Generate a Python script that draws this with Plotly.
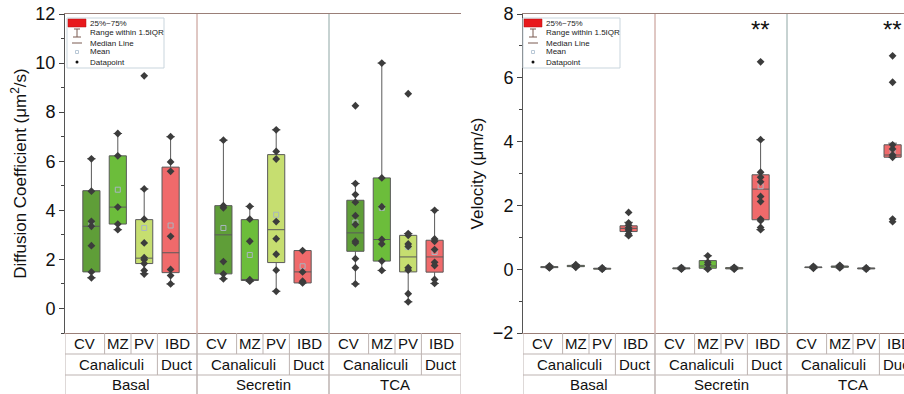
import plotly.graph_objects as go

W, H = 904, 394

# ---------------- data ----------------
groups = ["Basal", "Secretin", "TCA"]
regions = ["CV", "MZ", "PV", "IBD"]
subgroups = ["Canaliculi", "Duct"]
region_colors = ["#5f9e38", "#6cbd3b", "#c6de70", "#f06a6b"]

# Diffusion coefficient (um^2/s), order: Basal CV,MZ,PV,IBD, Secretin ..., TCA ...
diff_q1 = [1.49, 3.44, 1.83, 1.46, 1.41, 1.14, 1.87, 1.04, 2.33, 1.93, 1.49, 1.48]
diff_med = [3.35, 4.13, 2.05, 2.27, 3.00, 1.17, 3.21, 1.49, 3.08, 2.81, 2.10, 2.10]
diff_q3 = [4.80, 6.22, 3.62, 5.76, 4.19, 3.62, 6.27, 2.36, 4.41, 5.32, 2.98, 2.78]
diff_lo = [1.25, 3.21, 1.42, 1.00, 1.21, 1.11, 0.70, 1.04, 1.00, 1.55, 0.27, 1.02]
diff_hi = [6.10, 7.13, 4.87, 7.00, 6.86, 4.16, 7.28, 2.36, 5.09, 10.0, 3.05, 4.00]
diff_mean = [3.40, 4.84, 3.28, 3.38, 3.28, 2.18, 3.82, 1.72, 3.50, 4.10, 2.50, 2.30]
diff_points = [
    [6.10, 4.78, 3.55, 3.35, 2.56, 1.49, 1.25],
    [7.13, 6.22, 4.13, 3.44, 3.21],
    [9.48, 4.87, 3.64, 2.67, 2.07, 1.99, 1.83, 1.55, 1.40],
    [7.00, 5.97, 5.59, 2.94, 1.59, 1.34, 1.00],
    [6.86, 4.19, 4.10, 1.91, 1.41, 1.21],
    [4.16, 3.64, 2.74, 1.17, 1.14, 1.11],
    [7.28, 6.40, 6.09, 3.54, 2.84, 2.21, 1.56, 0.70],
    [2.36, 1.49, 1.11, 1.04],
    [8.26, 5.09, 4.64, 4.33, 3.78, 3.42, 2.74, 2.67, 2.03, 1.66, 1.00],
    [10.0, 5.32, 4.15, 2.81, 2.63, 1.93, 1.55],
    [8.75, 3.05, 2.98, 2.63, 2.53, 1.66, 1.56, 0.60, 0.27],
    [4.00, 2.83, 2.74, 2.40, 1.88, 1.75, 1.18, 1.02],
]

# Velocity (um/s)
vel_q1 = [0.05, 0.08, 0.00, 1.18, 0.01, 0.03, 0.01, 1.55, 0.05, 0.06, 0.01, 3.51]
vel_med = [0.07, 0.10, 0.02, 1.28, 0.03, 0.10, 0.03, 2.51, 0.06, 0.08, 0.02, 3.58]
vel_q3 = [0.08, 0.12, 0.03, 1.36, 0.04, 0.27, 0.05, 2.96, 0.07, 0.10, 0.04, 3.90]
vel_lo = [0.04, 0.06, -0.01, 1.05, 0.00, 0.00, 0.00, 1.24, 0.03, 0.04, 0.00, 3.51]
vel_hi = [0.10, 0.14, 0.05, 1.47, 0.06, 0.42, 0.07, 4.06, 0.09, 0.12, 0.05, 3.95]
vel_mean = [0.07, 0.10, 0.02, 1.30, 0.03, 0.17, 0.03, 2.60, 0.06, 0.08, 0.02, 3.70]
vel_points = [
    [0.04, 0.06, 0.07, 0.08, 0.10],
    [0.06, 0.08, 0.10, 0.10, 0.12, 0.14],
    [0.00, 0.01, 0.02, 0.03, 0.04],
    [1.78, 1.45, 1.38, 1.30, 1.25, 1.20, 1.10, 1.05],
    [0.00, 0.02, 0.03, 0.04, 0.05],
    [0.42, 0.22, 0.15, 0.03, 0.00],
    [0.00, 0.02, 0.03, 0.04, 0.06],
    [6.50, 4.06, 3.04, 2.88, 2.74, 2.28, 2.12, 1.57, 1.52, 1.31, 1.24],
    [0.03, 0.05, 0.06, 0.07, 0.09],
    [0.04, 0.07, 0.08, 0.10, 0.12],
    [0.00, 0.02, 0.03, 0.04],
    [6.69, 5.86, 3.90, 3.77, 3.58, 3.51, 1.57, 1.49],
]
significance = ["", "**", "**"]  # on IBD of each group, velocity panel

# ---------------- helpers ----------------
def PX(x):
    return x / W


def PY(y):
    return 1 - y / H


def pos(g, i):
    return g * 5 + i + 1


FONT = "Liberation Sans, Arial, sans-serif"
FRAME = "#9a7f78"
TABLE = "#bdb3b1"

fig = go.Figure()


def add_panel(xa, ya, q1, med, q3, lo, hi, mean, pts):
    for i, reg in enumerate(regions):
        idx = [g * 4 + i for g in range(len(groups))]
        xs = [pos(g, i) for g in range(len(groups))]
        fig.add_trace(go.Box(
            x=xs, q1=[q1[k] for k in idx], median=[med[k] for k in idx],
            q3=[q3[k] for k in idx], lowerfence=[lo[k] for k in idx],
            upperfence=[hi[k] for k in idx],
            fillcolor=region_colors[i], line=dict(color="#5a5a5a", width=1),
            width=0.65, whiskerwidth=0.5, boxpoints=False,
            xaxis=xa, yaxis=ya, showlegend=False, hoverinfo="skip"))
    mx, my = [], []
    for k in range(12):
        g, i = divmod(k, 4)
        mx.append(pos(g, i))
        my.append(mean[k])
    fig.add_trace(go.Scatter(x=mx, y=my, mode="markers", xaxis=xa, yaxis=ya,
                             marker=dict(symbol="square-open", size=5, color="#a9b6c0", line=dict(width=1)),
                             showlegend=False, hoverinfo="skip"))
    px_, py_ = [], []
    for k in range(12):
        g, i = divmod(k, 4)
        for v in pts[k]:
            px_.append(pos(g, i))
            py_.append(v)
    fig.add_trace(go.Scatter(x=px_, y=py_, mode="markers", xaxis=xa, yaxis=ya,
                             marker=dict(symbol="diamond", size=6, color="#3c3c3c"),
                             showlegend=False, hoverinfo="skip"))


add_panel("x", "y", diff_q1, diff_med, diff_q3, diff_lo, diff_hi, diff_mean, diff_points)
add_panel("x2", "y2", vel_q1, vel_med, vel_q3, vel_lo, vel_hi, vel_mean, vel_points)

ydom = [PY(333), PY(14)]
axis_common = dict(showgrid=False, zeroline=False, automargin=False)
fig.update_layout(
    width=W, height=H, margin=dict(l=0, r=0, t=0, b=0, autoexpand=False),
    paper_bgcolor="white", plot_bgcolor="white", boxmode="overlay",
    font=dict(family=FONT, color="#111"),
    xaxis=dict(domain=[PX(65), PX(461)], range=[0, 15], showticklabels=False, ticks="",
               showline=True, mirror=True, linecolor=FRAME, linewidth=1, **axis_common),
    xaxis2=dict(domain=[PX(523), 1.0], range=[0, (904 - 523) / 26.4], showticklabels=False, ticks="",
                showline=True, mirror=True, linecolor=FRAME, linewidth=1, **axis_common),
    yaxis=dict(domain=ydom, range=[-1, 12], tickvals=[0, 2, 4, 6, 8, 10, 12],
               ticks="outside", ticklen=5, tickcolor="#444", showline=True, linecolor="#555",
               tickfont=dict(size=18, family=FONT), anchor="x",
               minor=dict(tickvals=[-1, 1, 3, 5, 7, 9, 11], ticks="outside", ticklen=3, tickcolor="#444"),
               title=dict(text="Diffusion Coefficient (μm<sup>2</sup>/s)", font=dict(size=17, family=FONT), standoff=4),
               **axis_common),
    yaxis2=dict(domain=ydom, range=[-2, 8], tickvals=[-2, 0, 2, 4, 6, 8],
                ticks="outside", ticklen=5, tickcolor="#444", showline=True, linecolor="#555",
                tickfont=dict(size=18, family=FONT), anchor="x2",
                minor=dict(tickvals=[-1, 1, 3, 5, 7], ticks="outside", ticklen=3, tickcolor="#444"),
                title=dict(text="Velocity (μm/s)", font=dict(size=17, family=FONT), standoff=4),
                **axis_common),
)

shapes = []
annotations = []

row_y = [PY(333), PY(354), PY(375), 0.0]
for xa, ya in [("x", "y"), ("x2", "y2")]:
    for b, col in [(5, "#c09088"), (10, "#8fa6a4")]:
        shapes.append(dict(type="line", xref=xa, yref=ya + " domain", x0=b, x1=b, y0=0, y1=1,
                           line=dict(color=col, width=1)))
    for yy in row_y[1:3]:
        shapes.append(dict(type="line", xref=xa, yref="paper", x0=0, x1=15, y0=yy, y1=yy,
                           line=dict(color=TABLE, width=1)))
    for g, gname in enumerate(groups):
        base = g * 5
        for b in [0, 1.5, 2.5, 3.5, 5]:
            shapes.append(dict(type="line", xref=xa, yref="paper", x0=base + b, x1=base + b,
                               y0=row_y[1], y1=row_y[0], line=dict(color=TABLE, width=1)))
        for b in [0, 3.5, 5]:
            shapes.append(dict(type="line", xref=xa, yref="paper", x0=base + b, x1=base + b,
                               y0=row_y[2], y1=row_y[1], line=dict(color=TABLE, width=1)))
        for b in [0, 5]:
            shapes.append(dict(type="line", xref=xa, yref="paper", x0=base + b, x1=base + b,
                               y0=row_y[3], y1=row_y[2], line=dict(color=TABLE, width=1)))
        for c, lab in zip([0.75, 2, 3, 4.25], regions):
            annotations.append(dict(xref=xa, yref="paper", x=base + c, y=PY(343.5), text=lab,
                                    showarrow=False, font=dict(size=15, family=FONT, color="#111"),
                                    xanchor="center", yanchor="middle"))
        for c, lab in zip([1.75, 4.25], subgroups):
            annotations.append(dict(xref=xa, yref="paper", x=base + c, y=PY(364.5), text=lab,
                                    showarrow=False, font=dict(size=15, family=FONT, color="#111"),
                                    xanchor="center", yanchor="middle"))
        annotations.append(dict(xref=xa, yref="paper", x=base + 2.5, y=PY(384.5), text=gname,
                                showarrow=False, font=dict(size=15, family=FONT, color="#111"),
                                xanchor="center", yanchor="middle"))

for g, s in enumerate(significance):
    if s:
        annotations.append(dict(xref="x2", yref="y2", x=pos(g, 3), y=7.5, text=s, showarrow=False,
                                font=dict(size=24, family=FONT, color="#111"),
                                xanchor="center", yanchor="middle"))

legend_items = ["25%~75%", "Range within 1.5IQR", "Median Line", "Mean", "Datapoint"]
legend_rows = [23, 33, 43, 52, 62]
for lx in [67, 523]:
    ly = 18
    shapes.append(dict(type="rect", xref="paper", yref="paper", x0=PX(lx), x1=PX(lx + 97),
                       y0=PY(ly + 50), y1=PY(ly), line=dict(color="#c9d5dd", width=1), fillcolor="white"))
    shapes.append(dict(type="rect", xref="paper", yref="paper", x0=PX(lx + 1), x1=PX(lx + 19),
                       y0=PY(ly + 9), y1=PY(ly + 1), line=dict(color="#b01010", width=0.5), fillcolor="#e8191c"))
    cx = lx + 10
    wc = "#7a5a50"
    shapes.append(dict(type="line", xref="paper", yref="paper", x0=PX(cx), x1=PX(cx),
                       y0=PY(ly + 19), y1=PY(ly + 11), line=dict(color=wc, width=1)))
    shapes.append(dict(type="line", xref="paper", yref="paper", x0=PX(cx - 3), x1=PX(cx + 3),
                       y0=PY(ly + 11), y1=PY(ly + 11), line=dict(color=wc, width=1)))
    shapes.append(dict(type="line", xref="paper", yref="paper", x0=PX(cx - 4), x1=PX(cx + 4),
                       y0=PY(ly + 19), y1=PY(ly + 19), line=dict(color=wc, width=1)))
    shapes.append(dict(type="line", xref="paper", yref="paper", x0=PX(cx - 5), x1=PX(cx + 5),
                       y0=PY(ly + 25), y1=PY(ly + 25), line=dict(color=wc, width=1)))
    shapes.append(dict(type="rect", xref="paper", yref="paper", x0=PX(cx - 1.5), x1=PX(cx + 1.5),
                       y0=PY(ly + 35.5), y1=PY(ly + 32.5), line=dict(color="#b9c8d6", width=1), fillcolor="white"))
    shapes.append(dict(type="circle", xref="paper", yref="paper", x0=PX(cx - 1.5), x1=PX(cx + 1.5),
                       y0=PY(ly + 45.5), y1=PY(ly + 42.5), line=dict(color="#111", width=0), fillcolor="#111"))
    for txt, ry in zip(legend_items, legend_rows):
        annotations.append(dict(xref="paper", yref="paper", x=PX(lx + 21), y=PY(ry), text=txt,
                                showarrow=False, xanchor="left", yanchor="middle",
                                font=dict(size=8, family=FONT, color="#222")))

fig.update_layout(shapes=shapes, annotations=annotations)
fig.write_html("out.html", config={"displayModeBar": False},
               post_script="document.body.style.margin='0';document.body.style.overflow='hidden';")
